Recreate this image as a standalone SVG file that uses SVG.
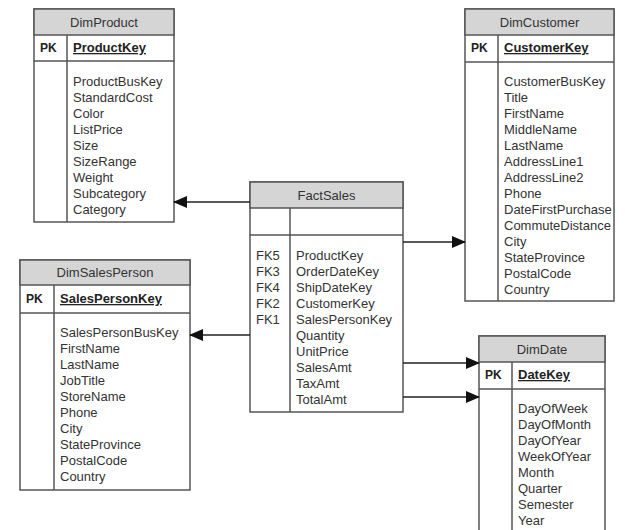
<svg xmlns="http://www.w3.org/2000/svg" width="625" height="530" viewBox="0 0 625 530">
<defs>
<marker id="ah" markerWidth="14" markerHeight="12" refX="13" refY="6" orient="auto" markerUnits="userSpaceOnUse">
<path d="M0,0 L14,6 L0,12 Z" fill="#111"/>
</marker>
</defs>
<style>
.box{fill:#fff;stroke:#555;stroke-width:1.5}
.hdr{fill:#d5d5d5;stroke:#555;stroke-width:1.5}
.ln{stroke:#555;stroke-width:1.5;fill:none}
text{font-family:"Liberation Sans",Arial,sans-serif;font-size:13px;fill:#333}
.t{text-anchor:middle}
.pk{font-weight:bold;font-size:12px;fill:#222}
.key{font-weight:bold;text-decoration:underline;fill:#222}
.con{stroke:#222;stroke-width:1.5;fill:none;marker-end:url(#ah)}
</style>
<rect width="625" height="530" fill="#fff"/>

<g id="DimProduct">
<rect class="box" x="34" y="9" width="140" height="213"/>
<rect class="hdr" x="34" y="9" width="140" height="26"/>
<line class="ln" x1="34" y1="61" x2="174" y2="61"/>
<line class="ln" x1="67" y1="35" x2="67" y2="222"/>
<text class="t" x="104" y="26.5">DimProduct</text>
<text class="pk" x="40" y="52">PK</text>
<text class="key" x="73" y="52">ProductKey</text>
<text x="73" y="85.5">ProductBusKey</text>
<text x="73" y="101.5">StandardCost</text>
<text x="73" y="117.5">Color</text>
<text x="73" y="133.5">ListPrice</text>
<text x="73" y="149.5">Size</text>
<text x="73" y="165.5">SizeRange</text>
<text x="73" y="181.5">Weight</text>
<text x="73" y="197.5">Subcategory</text>
<text x="73" y="213.5">Category</text>
</g>

<g id="DimCustomer">
<rect class="box" x="465" y="9" width="149" height="292"/>
<rect class="hdr" x="465" y="9" width="149" height="26"/>
<line class="ln" x1="465" y1="62" x2="614" y2="62"/>
<line class="ln" x1="498" y1="35" x2="498" y2="301"/>
<text class="t" x="539.5" y="26.5">DimCustomer</text>
<text class="pk" x="471" y="52">PK</text>
<text class="key" x="504" y="52">CustomerKey</text>
<text x="504" y="85.5">CustomerBusKey</text>
<text x="504" y="101.5">Title</text>
<text x="504" y="117.5">FirstName</text>
<text x="504" y="133.5">MiddleName</text>
<text x="504" y="149.5">LastName</text>
<text x="504" y="165.5">AddressLine1</text>
<text x="504" y="181.5">AddressLine2</text>
<text x="504" y="197.5">Phone</text>
<text x="504" y="213.5">DateFirstPurchase</text>
<text x="504" y="229.5">CommuteDistance</text>
<text x="504" y="245.5">City</text>
<text x="504" y="261.5">StateProvince</text>
<text x="504" y="277.5">PostalCode</text>
<text x="504" y="293.5">Country</text>
</g>

<g id="FactSales">
<rect class="box" x="250" y="182" width="153" height="230"/>
<rect class="hdr" x="250" y="182" width="153" height="26"/>
<line class="ln" x1="250" y1="235" x2="403" y2="235"/>
<line class="ln" x1="290" y1="208" x2="290" y2="412"/>
<text class="t" x="326.5" y="199.5">FactSales</text>
<text x="256" y="259.5">FK5</text>
<text x="256" y="275.5">FK3</text>
<text x="256" y="291.5">FK4</text>
<text x="256" y="307.5">FK2</text>
<text x="256" y="323.5">FK1</text>
<text x="296" y="259.5">ProductKey</text>
<text x="296" y="275.5">OrderDateKey</text>
<text x="296" y="291.5">ShipDateKey</text>
<text x="296" y="307.5">CustomerKey</text>
<text x="296" y="323.5">SalesPersonKey</text>
<text x="296" y="339.5">Quantity</text>
<text x="296" y="355.5">UnitPrice</text>
<text x="296" y="371.5">SalesAmt</text>
<text x="296" y="387.5">TaxAmt</text>
<text x="296" y="403.5">TotalAmt</text>
</g>

<g id="DimSalesPerson">
<rect class="box" x="20" y="260" width="170" height="230"/>
<rect class="hdr" x="20" y="260" width="170" height="25"/>
<line class="ln" x1="20" y1="313" x2="190" y2="313"/>
<line class="ln" x1="54" y1="285" x2="54" y2="490"/>
<text class="t" x="105" y="277">DimSalesPerson</text>
<text class="pk" x="26" y="303">PK</text>
<text class="key" x="60" y="303">SalesPersonKey</text>
<text x="60" y="336.5">SalesPersonBusKey</text>
<text x="60" y="352.5">FirstName</text>
<text x="60" y="368.5">LastName</text>
<text x="60" y="384.5">JobTitle</text>
<text x="60" y="400.5">StoreName</text>
<text x="60" y="416.5">Phone</text>
<text x="60" y="432.5">City</text>
<text x="60" y="448.5">StateProvince</text>
<text x="60" y="464.5">PostalCode</text>
<text x="60" y="480.5">Country</text>
</g>

<g id="DimDate">
<rect class="box" x="479" y="336" width="126" height="210"/>
<rect class="hdr" x="479" y="336" width="126" height="26"/>
<line class="ln" x1="479" y1="389" x2="605" y2="389"/>
<line class="ln" x1="512" y1="362" x2="512" y2="546"/>
<text class="t" x="542" y="353.5">DimDate</text>
<text class="pk" x="485" y="379">PK</text>
<text class="key" x="518" y="379">DateKey</text>
<text x="518" y="412.5">DayOfWeek</text>
<text x="518" y="428.5">DayOfMonth</text>
<text x="518" y="444.5">DayOfYear</text>
<text x="518" y="460.5">WeekOfYear</text>
<text x="518" y="476.5">Month</text>
<text x="518" y="492.5">Quarter</text>
<text x="518" y="508.5">Semester</text>
<text x="518" y="524.5">Year</text>
</g>

<g id="connectors">
<line class="con" x1="250" y1="202" x2="174" y2="202"/>
<line class="con" x1="403" y1="242" x2="465" y2="242"/>
<line class="con" x1="250" y1="335" x2="190" y2="335"/>
<line class="con" x1="403" y1="363" x2="479" y2="363"/>
<line class="con" x1="403" y1="397" x2="479" y2="397"/>
</g>
</svg>
